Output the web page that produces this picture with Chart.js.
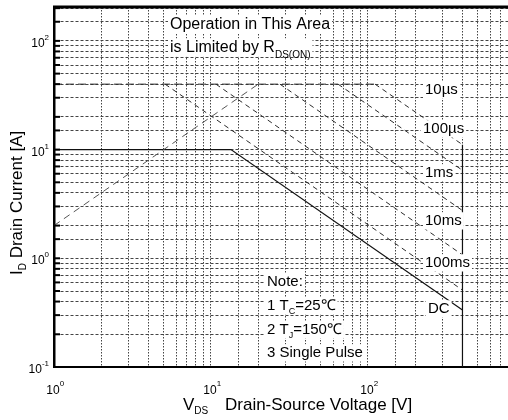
<!DOCTYPE html>
<html>
<head>
<meta charset="utf-8">
<script src="https://cdn.jsdelivr.net/npm/chart.js@4"></script>
<style>
  html, body { margin: 0; padding: 0; background: #fff; }
  #wrap { width: 508px; height: 420px; }
</style>
</head>
<body>
<div id="wrap"><canvas id="soa" width="508" height="420"></canvas></div>
<script>
'use strict';

// safe operating area
const pulseNames = ['10µs', '100µs', '1ms', '10ms', '100ms'];
const pulseKneeV = [111, 64.5, 27.5, 10.75, 5.1];   // where each pulse curve leaves the 40 A limit
const pulseEndI = [11.1, 6.45, 2.75, 1.075, 0.51];  // current at the 400 V limit
const idmLimit = 40;
const vdssLimit = 400;
const rdsV = [1, 20];
const rdsI = [2, 40];
const dcV = [1, 13.4, 400];
const dcI = [10, 10, 0.335];
const floorI = 0.1;

const xTickValues = [1, 10, 100];
const xTickExp = ['0', '1', '2'];
const yTickValues = [0.1, 1, 10, 100];
const yTickExp = ['-1', '0', '1', '2'];

const FONT = '"Liberation Sans Narrow", "Liberation Sans", Arial, sans-serif';
const LINE = '#2b2b2b';

function pts(xs, ys) {
  return xs.map((x, i) => ({x: x, y: ys[i]}));
}

const datasets = [];
datasets.push({
  label: 'RDS(on) limit',
  data: pts(rdsV, rdsI),
  borderColor: '#555',
  borderWidth: 1,
  borderDash: [7, 5]
});
pulseNames.forEach((name, i) => {
  let xs = [pulseKneeV[i], vdssLimit];
  let ys = [idmLimit, pulseEndI[i]];
  if (i === 0) {
    xs = [1].concat(xs);
    ys = [idmLimit].concat(ys);
  }
  datasets.push({
    label: name,
    data: pts(xs, ys),
    borderColor: LINE,
    borderWidth: 1,
    segment: {
      borderDash: ctx => (i === 0 && ctx.p0DataIndex === 0) ? [8, 4] : [5, 4]
    }
  });
});
datasets.push({
  label: 'DC',
  data: pts(dcV, dcI),
  borderColor: '#111',
  borderWidth: 1.2
});
datasets.push({
  label: 'VDSS',
  data: pts([vdssLimit, vdssLimit], [pulseEndI[0], floorI]),
  borderColor: '#111',
  borderWidth: 1.2
});

function richWidth(ctx, parts) {
  let w = 0;
  parts.forEach(p => {
    ctx.font = p[1] + 'px ' + FONT;
    w += ctx.measureText(p[0]).width;
  });
  return w;
}

function drawRich(ctx, parts, x, y) {
  parts.forEach(p => {
    ctx.font = p[1] + 'px ' + FONT;
    ctx.fillText(p[0], x, y + (p[2] || 0));
    x += ctx.measureText(p[0]).width;
  });
}

// text on a white patch, like the original figure
function boxText(ctx, parts, x, y, size) {
  const w = richWidth(ctx, parts);
  ctx.fillStyle = '#fff';
  ctx.fillRect(x - 2, y - size * 0.85, w + 4, size * 1.15);
  ctx.fillStyle = '#000';
  drawRich(ctx, parts, x, y);
}

const decor = {
  id: 'decor',
  afterDraw(chart) {
    const ctx = chart.ctx;
    const area = chart.chartArea;
    const xs = chart.scales.x;
    const ys = chart.scales.y;
    ctx.save();
    ctx.textBaseline = 'alphabetic';

    // short inner ticks on the left axis
    ctx.strokeStyle = '#000';
    ctx.lineWidth = 2;
    ys.ticks.forEach(t => {
      const py = ys.getPixelForValue(t.value);
      ctx.beginPath();
      ctx.moveTo(area.left, py);
      ctx.lineTo(area.left + 6, py);
      ctx.stroke();
    });
    // top frame
    ctx.lineWidth = 3;
    ctx.beginPath();
    ctx.moveTo(area.left - 1, area.top);
    ctx.lineTo(area.right, area.top);
    ctx.stroke();

    ctx.fillStyle = '#000';
    // tick labels 10^n
    xTickValues.forEach((v, i) => {
      const px = xs.getPixelForValue(v);
      ctx.font = '12px ' + FONT;
      const w = ctx.measureText('10').width;
      ctx.fillText('10', px - w / 2 - 1, 394);
      ctx.font = '8px ' + FONT;
      ctx.fillText(xTickExp[i], px + w / 2 - 1, 386);
    });
    yTickValues.forEach((v, i) => {
      const py = ys.getPixelForValue(v);
      ctx.font = '8px ' + FONT;
      const we = ctx.measureText(yTickExp[i]).width;
      ctx.fillText(yTickExp[i], 49 - we, py - 1);
      ctx.font = '12px ' + FONT;
      const w = ctx.measureText('10').width;
      ctx.fillText('10', 49 - we - w, py + 6);
    });

    // axis titles
    drawRich(ctx, [['V', 17], ['DS', 10, 4]], 183, 410);
    ctx.font = '17px ' + FONT;
    ctx.fillText('Drain-Source Voltage [V]', 225, 410);

    ctx.save();
    ctx.translate(22, 275);
    ctx.rotate(-Math.PI / 2);
    drawRich(ctx, [['I', 17], ['D', 10, 4], [' ', 17], ['Drain Current [A]', 17]], 0, 0);
    ctx.restore();

    // annotations
    boxText(ctx, [['Operation in This Area', 16]], 170, 29, 16);
    boxText(ctx, [['is Limited by R', 16], ['DS(ON)', 10, 6]], 170, 52, 16);

    const curveTags = [['10µs', 425, 94], ['100µs', 423, 133], ['1ms', 425, 177],
                       ['10ms', 425, 225], ['100ms', 425, 267], ['DC', 428, 313]];
    curveTags.forEach(t => boxText(ctx, [[t[0], 15]], t[1], t[2], 15));

    boxText(ctx, [['Note:', 15]], 267, 286, 15);
    boxText(ctx, [['1 T', 15], ['C', 9, 4], ['=25℃', 15]], 267, 310, 15);
    boxText(ctx, [['2 T', 15], ['J', 9, 4], ['=150℃', 15]], 267, 334, 15);
    boxText(ctx, [['3 Single Pulse', 15]], 267, 357, 15);

    ctx.restore();
  }
};

const gridStyle = {color: '#444', lineWidth: 1, drawTicks: false};

new Chart(document.getElementById('soa'), {
  type: 'scatter',
  data: {datasets: datasets},
  options: {
    responsive: false,
    animation: false,
    showLine: true,
    elements: {point: {radius: 0}, line: {tension: 0}},
    layout: {padding: {left: 54, top: 7, right: 0, bottom: 53}},
    plugins: {legend: {display: false}, tooltip: {enabled: false}},
    scales: {
      x: {
        type: 'logarithmic',
        min: 1,
        max: 780,
        ticks: {display: false},
        grid: gridStyle,
        border: {display: true, color: '#000', width: 2, dash: [1.5, 1.5]}
      },
      y: {
        type: 'logarithmic',
        min: 0.1,
        max: 205,
        ticks: {display: false},
        grid: gridStyle,
        border: {display: true, color: '#000', width: 2.5, dash: [3, 2]}
      }
    }
  },
  plugins: [decor]
});
</script>
</body>
</html>
